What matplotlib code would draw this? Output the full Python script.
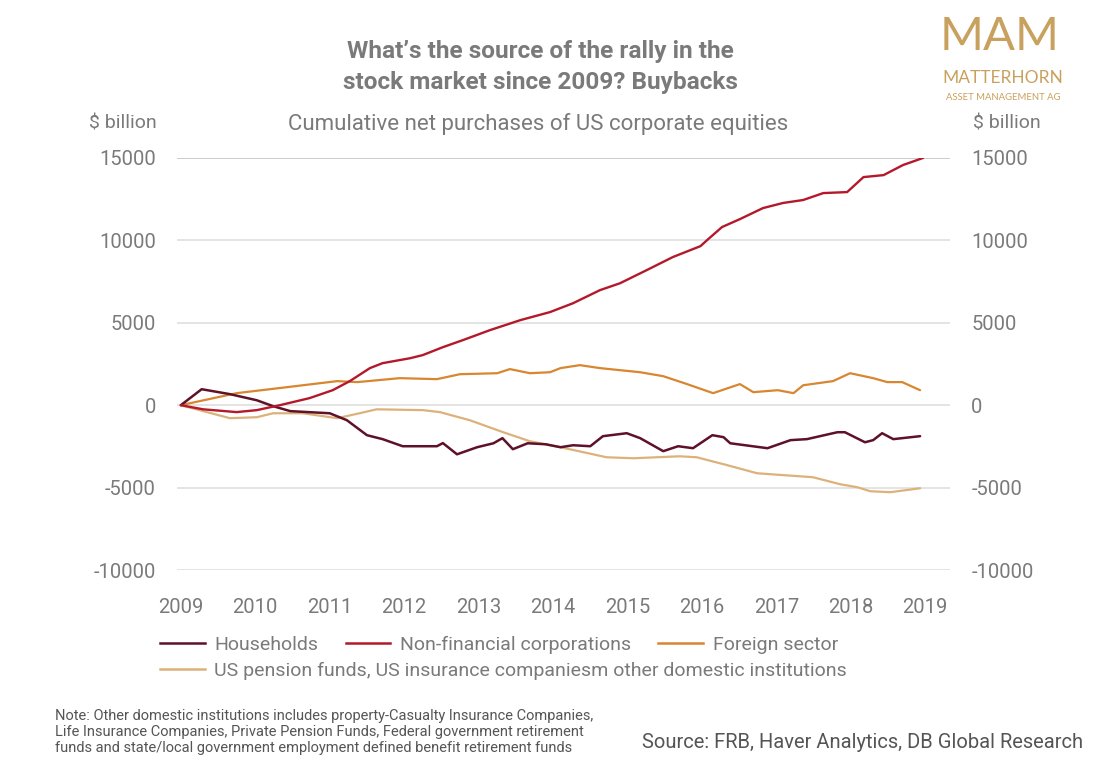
# Package Import
import matplotlib
matplotlib.use('Agg')
import matplotlib.pyplot as plt
from matplotlib.lines import Line2D

plt.rcParams['font.family'] = 'Roboto'
plt.rcParams['axes.unicode_minus'] = False

# Data ($ billion, cumulative)
households_years = [2009.0, 2009.28, 2009.66, 2010.02, 2010.24, 2010.47, 2011.0, 2011.23, 2011.5,
                    2011.71, 2011.98, 2012.44, 2012.52, 2012.71, 2012.98, 2013.2, 2013.32, 2013.46,
                    2013.66, 2013.9, 2014.1, 2014.27, 2014.5, 2014.67, 2014.99, 2015.17, 2015.48,
                    2015.68, 2015.88, 2016.14, 2016.29, 2016.38, 2016.88, 2017.19, 2017.41, 2017.82,
                    2017.92, 2018.19, 2018.3, 2018.42, 2018.57, 2018.93]
households = [0, 970, 670, 300, -60, -360, -490, -910, -1820, -2060, -2490, -2490, -2300, -2980,
              -2550, -2310, -2000, -2670, -2310, -2370, -2550, -2430, -2490, -1880, -1700, -2000,
              -2790, -2490, -2610, -1820, -1940, -2310, -2610, -2120, -2060, -1640, -1640, -2250,
              -2120, -1700, -2060, -1880]

nonfin_years = [2009.0, 2009.3, 2009.75, 2010.02, 2010.33, 2010.73, 2011.04, 2011.27, 2011.54,
                2011.71, 2012.08, 2012.25, 2012.52, 2012.79, 2013.15, 2013.56, 2013.96, 2014.27,
                2014.63, 2014.9, 2015.26, 2015.61, 2015.98, 2016.07, 2016.27, 2016.51, 2016.82,
                2017.09, 2017.36, 2017.63, 2017.95, 2018.17, 2018.44, 2018.7, 2018.97]
nonfin = [0, -250, -420, -300, 0, 430, 910, 1460, 2250, 2550, 2850, 3040, 3520, 3950, 4550, 5160,
          5650, 6190, 6980, 7400, 8200, 8990, 9650, 10020, 10810, 11290, 11960, 12270, 12450,
          12870, 12930, 13840, 13960, 14570, 15000]

foreign_years = [2009.0, 2009.75, 2010.42, 2011.1, 2011.37, 2011.94, 2012.44, 2012.75, 2013.25,
                 2013.42, 2013.69, 2013.96, 2014.1, 2014.36, 2014.63, 2015.17, 2015.48, 2015.8,
                 2016.15, 2016.51, 2016.69, 2017.02, 2017.23, 2017.36, 2017.76, 2017.99, 2018.3,
                 2018.49, 2018.69, 2018.93]
foreign = [0, 730, 1090, 1460, 1400, 1640, 1580, 1880, 1940, 2190, 1940, 2000, 2250, 2430, 2250,
           2000, 1760, 1280, 730, 1280, 790, 910, 730, 1210, 1460, 1940, 1640, 1400, 1400, 910]

pension_years = [2009.0, 2009.66, 2010.02, 2010.24, 2010.64, 2011.1, 2011.4, 2011.63, 2012.25,
                 2012.48, 2012.88, 2013.33, 2013.69, 2013.96, 2014.1, 2014.72, 2015.08, 2015.7,
                 2015.93, 2016.34, 2016.74, 2017.49, 2017.86, 2018.09, 2018.26, 2018.53, 2018.93]
pension = [0, -790, -730, -490, -490, -790, -490, -250, -300, -420, -910, -1640, -2190, -2430,
           -2550, -3160, -3220, -3100, -3160, -3640, -4130, -4370, -4800, -4980, -5220, -5280,
           -5040]

year_ticks = list(range(2009, 2020))
value_ticks = [-10000, -5000, 0, 5000, 10000, 15000]

series_labels = ['Households', 'Non-financial corporations', 'Foreign sector',
                 'US pension funds, US insurance companiesm other domestic institutions']

# Colours
colors = ['#5e1129', '#b3192a', '#d8862f', '#dcb27a']
text_grey = '#7a7a7a'
gold = '#c9a15e'

# Create the figure
fig = plt.figure(figsize=(11.05, 7.65), dpi=100)
ax = fig.add_axes([0.160, 0.2549, 0.700, 0.5386])

# Gridlines
for v in value_ticks:
    ax.axhline(v, color='#bdbdbd' if v == 15000 else '#dcdcdc', lw=1.1, zorder=0)

# Lines
line_kw = dict(solid_joinstyle='round', solid_capstyle='round')
ax.plot(pension_years, pension, color=colors[3], lw=1.6, **line_kw)
ax.plot(foreign_years, foreign, color=colors[2], lw=1.6, **line_kw)
ax.plot(households_years, households, color=colors[0], lw=1.8, **line_kw)
ax.plot(nonfin_years, nonfin, color=colors[1], lw=1.7, **line_kw)

# Axes
ax.set_xlim(2008.946, 2019.336)
ax.set_ylim(-10000, 15000)
ax.set_xticks(year_ticks)
ax.set_yticks(value_ticks)
for s in ax.spines.values():
    s.set_visible(False)
ax.tick_params(axis='both', length=0, labelsize=14.5, labelcolor=text_grey)
ax.tick_params(axis='x', pad=20)
ax.tick_params(axis='y', pad=15, labelright=True)
for t in ax.yaxis.get_major_ticks():
    t.label2.set_horizontalalignment('left')

# Titles
fig.text(0.489, 1 - 67 / 765, "What\u2019s the source of the rally in the\nstock market since 2009? Buybacks",
         ha='center', va='center', fontsize=17.6, fontweight='bold', color=text_grey,
         linespacing=1.45)
fig.text(0.487, 1 - 124 / 765, 'Cumulative net purchases of US corporate equities',
         ha='center', va='center', fontsize=16, color=text_grey)
fig.text(157 / 1105, 1 - 124 / 765, '$ billion', ha='right', va='center', fontsize=14,
         color=text_grey)
fig.text(973 / 1105, 1 - 124 / 765, '$ billion', ha='left', va='center', fontsize=14,
         color=text_grey)

# Legend (two rows: three short entries, then the long one)
handles = [Line2D([], [], color=c, lw=1.8) for c in colors]
leg1 = fig.legend(handles[:3], series_labels[:3], ncol=3, frameon=False,
                  loc='center left', bbox_to_anchor=(160 / 1105, 1 - 645 / 765),
                  fontsize=14, handlelength=2.3, handletextpad=0.5, columnspacing=1.4,
                  borderaxespad=0, borderpad=0)
leg2 = fig.legend(handles[3:], series_labels[3:], frameon=False,
                  loc='center left', bbox_to_anchor=(160 / 1105, 1 - 671 / 765),
                  fontsize=14, handlelength=2.3, handletextpad=0.5,
                  borderaxespad=0, borderpad=0)
for leg in (leg1, leg2):
    for t in leg.get_texts():
        t.set_color(text_grey)

# Notes
fig.text(55 / 1105, 1 - 732 / 765,
         'Note: Other domestic institutions includes property-Casualty Insurance Companies,\n'
         'Life Insurance Companies, Private Pension Funds, Federal government retirement\n'
         'funds and state/local government employment defined benefit retirement funds',
         ha='left', va='center', fontsize=10.5, color='#555555', linespacing=1.2)
fig.text(1083 / 1105, 1 - 743 / 765, 'Source: FRB, Haver Analytics, DB Global Research',
         ha='right', va='center', fontsize=14.5, color='#555555')

# Logo
fig.text(1000 / 1105, 1 - 37 / 765, 'MAM', ha='center', va='center', fontsize=34,
         family='Lato', color=gold)
fig.text(1003 / 1105, 1 - 78 / 765, 'MATTERHORN', ha='center', va='center', fontsize=12.5,
         family='Lato', color=gold)
fig.text(1003 / 1105, 1 - 97 / 765, 'ASSET MANAGEMENT AG', ha='center', va='center',
         fontsize=6.8, family='Lato', color=gold)

# Saving the figure
fig.savefig('out.png', dpi=100, facecolor='white')
plt.close()
